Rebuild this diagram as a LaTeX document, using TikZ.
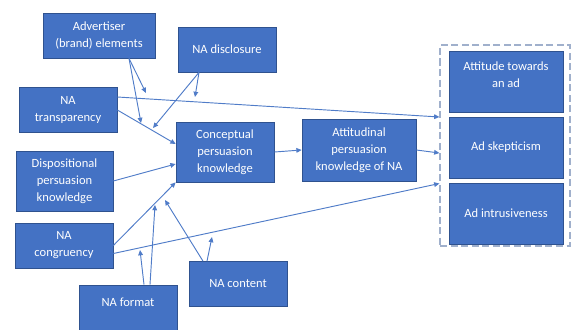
\documentclass[tikz,border=0pt]{standalone}
\usepackage{fontspec}
\setmainfont{Carlito}
\usetikzlibrary{arrows.meta, positioning, calc}
\definecolor{colBox}{RGB}{68,114,196}
\definecolor{colEdge}{RGB}{47,82,143}
\definecolor{colArr}{RGB}{80,124,200}
\definecolor{colFrame}{RGB}{160,176,204}

\begin{document}
\begin{tikzpicture}[
  x=0.03cm, y=-0.03cm,
  node distance=0.13cm and 0,
  box/.style={rectangle, draw=colEdge, fill=colBox, text=white, line width=0.6pt,
              minimum width=2.94cm, minimum height=1.35cm, inner sep=1pt,
              font=\fontsize{10.7}{14.5}\selectfont, align=center},
  tall/.style={box, minimum height=1.8cm},
  outbox/.style={box, minimum width=3.42cm, minimum height=1.83cm},
  arr/.style={-{Triangle[length=4.5pt, width=4pt]}, line width=0.8pt, colArr},
]
\useasboundingbox (0,0) rectangle (571,329);

\node[box, minimum width=3.36cm] (adv) at (99,35.5) {Advertiser\\(brand) elements};
\node[box] (disc) at (227,49.5) {NA disclosure};
\node[box] (transp) at (68,110) {NA\\transparency};
\node[tall] (concept) at (225,152) {Conceptual\\persuasion\\knowledge};
\node[tall, minimum width=2.91cm] (dispo) at (64.5,181) {Dispositional\\persuasion\\knowledge};
\node[box] (congr) at (64,245.5) {NA\\congruency};
\node[box, minimum height=1.38cm, text depth=0.33cm] (format) at (128,308) {NA format};
\node[box] (content) at (238,284) {NA content};
\node[tall, minimum width=3.42cm, minimum height=1.86cm] (attit) at (359,150) {Attitudinal\\persuasion\\knowledge of NA};
\node[outbox, text depth=0.4cm] (ad1) at (506,81.5) {Attitude towards\\an ad};
\node[outbox, below=of ad1] (ad2) {Ad skepticism};
\node[outbox, below=of ad2] (ad3) {Ad intrusiveness};

% dashed frame round the outcomes
\node[draw=colFrame, dashed, dash pattern=on 6pt off 3pt, line width=1pt,
      minimum width=3.9cm, minimum height=6.03cm] (frame) at (505,145.5) {};

% free arrow ends in the gaps
\coordinate (tA) at (146,93);
\coordinate (tB) at (141,123);
\coordinate (tC) at (195,97);
\coordinate (tD) at (153,128);
\coordinate (tF) at (140,250);
\coordinate (tG) at (155,205);
\coordinate (tH) at (165,200);
\coordinate (tI) at (212,237);

\draw[arr] ($(adv.south)+(30,0)$) -- (tA);
\draw[arr] ($(adv.south)+(30,0)$) -- (tB);
\draw[arr] ($(disc.south)+(-28,0)$) -- (tC);
\draw[arr] ($(disc.south)+(-28,0)$) -- (tD);
\draw[arr] ($(transp.east)+(0,-13)$) -- ($(frame.west)+(0,-28.5)$);
\draw[arr] (transp.east) -- ($(concept.west)+(0,-8)$);
\draw[arr] (dispo.east) -- ($(concept.west)+(0,12)$);
\draw[arr] (congr.east) -- (concept.south west);
\draw[arr] ($(congr.east)+(0,8)$) -- ($(frame.west)+(0,38)$);
\draw[arr] ($(format.north)+(16,0)$) -- (tF);
\draw[arr] ($(format.north)+(22,0)$) -- (tG);
\draw[arr] ($(content.north)+(-35,0)$) -- (tH);
\draw[arr] ($(content.north)+(-31,0)$) -- (tI);
\draw[arr] (concept.east) -- (attit.west);
\draw[arr] (attit.east) -- ($(frame.west)+(0,7.5)$);

\end{tikzpicture}
\end{document}
